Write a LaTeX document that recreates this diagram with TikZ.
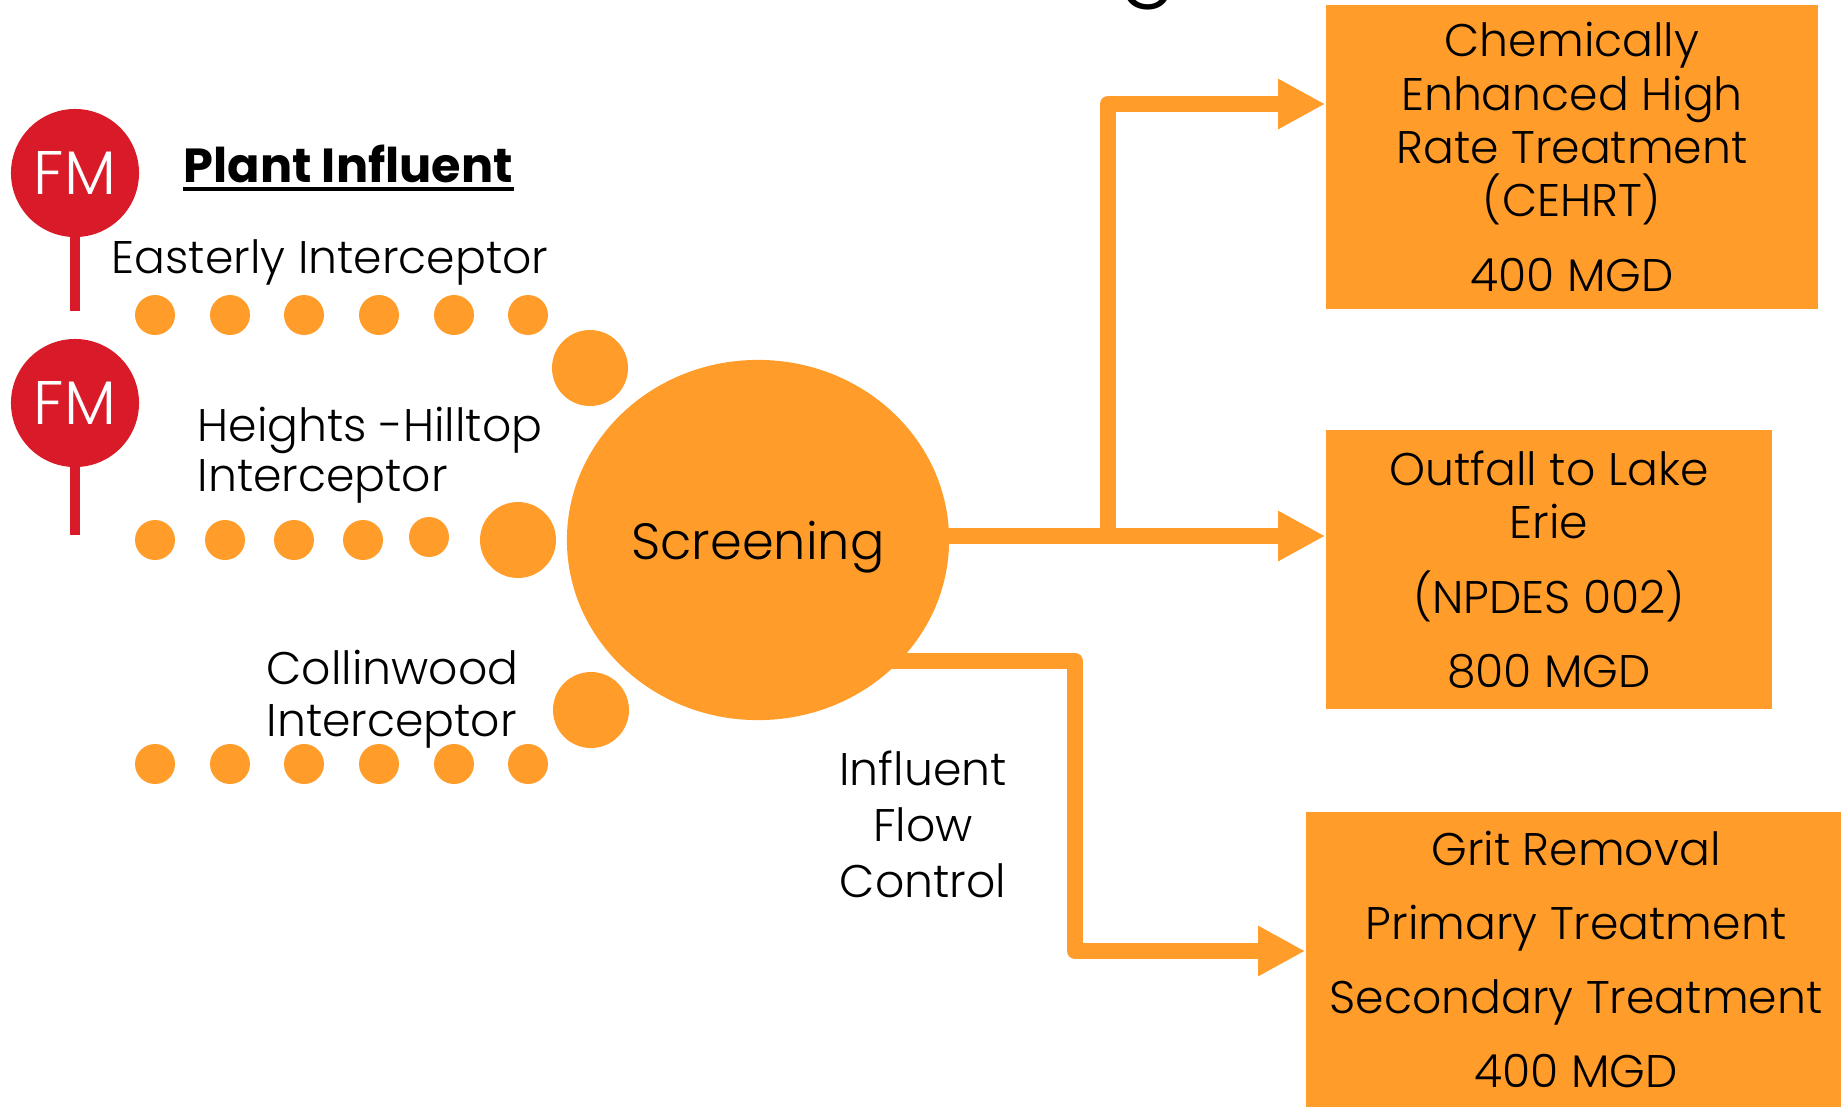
\documentclass[tikz,border=0pt]{standalone}
\usepackage{fontspec}
\setmainfont{Poppins}[UprightFont=* Light,BoldFont=* Bold]
\usetikzlibrary{arrows.meta,shapes.geometric,calc}
\definecolor{flow}{RGB}{255,156,42}
\definecolor{meterred}{RGB}{217,26,41}

\begin{document}
\begin{tikzpicture}[x=0.01cm,y=-0.01cm,
        every node/.style={inner sep=0pt,font=\fontsize{13}{15.2}\selectfont},
        pipe/.style={draw=flow,line width=0.16cm,line join=round,
          -{Triangle[length=0.47cm,width=0.47cm]}},
        stage/.style={rectangle,fill=flow,align=center},
        meter/.style={circle,fill=meterred,text=white,minimum size=1.28cm,
          font=\fontsize{17.5}{20}\selectfont},
        stem/.style={draw=meterred,line width=0.1cm}]

  \useasboundingbox (0,0) rectangle (1841,1108);

  \node[anchor=base,font=\fontsize{25}{28}\selectfont] (title) at (1148,-14) {g};

  \node[meter] (fm_1) at (75,173) {FM};
  \node[meter] (fm_2) at (75,403) {FM};
  \coordinate (stem_1) at (75,311);
  \coordinate (stem_2) at (75,535);
  \draw[stem] ([yshift=3pt]fm_1.south) -- (stem_1);
  \draw[stem] ([yshift=3pt]fm_2.south) -- (stem_2);

  \node[anchor=base west,font=\bfseries\fontsize{13.6}{16}\selectfont] (influent) at (183,182) {Plant Influent};
  \draw[line width=0.043cm] ([yshift=-0.07cm]influent.base west) -- ([yshift=-0.07cm]influent.base east);

  \node[anchor=base west] (easterly) at (111,273) {Easterly Interceptor};
  \node[anchor=west,align=left,font=\fontsize{13}{14.2}\selectfont] (heights) at (197,455) {Heights -Hilltop\\Interceptor};
  \node[anchor=west,align=left,font=\fontsize{13}{14.7}\selectfont] (collinwood) at (266,699) {Collinwood\\Interceptor};

  \foreach \x in {155,230,304,379,454,528} {
    \fill[flow] (\x,315) circle (20);
    \fill[flow] (\x,764) circle (20);
  }
  \foreach \x/\y in {155/540,225/540,294/540,363/540,429/537}
    \fill[flow] (\x,\y) circle (20);
  \foreach \x/\y in {590/368,518/540,591/710}
    \fill[flow] (\x,\y) circle (38);

  \node[ellipse,fill=flow,minimum width=3.82cm,minimum height=3.6cm,text depth=0pt,
        font=\fontsize{14.5}{16}\selectfont] (scr) at (758,540) {Screening};

  \node[stage,minimum width=4.92cm,minimum height=3.03cm] (cehrt) at (1572,157)
    {Chemically\\Enhanced High\\Rate Treatment\\(CEHRT)\\[6pt]400 MGD};
  \node[stage,minimum width=4.46cm,minimum height=2.79cm] (outfall) at (1549,569.5)
    {Outfall to Lake\\Erie\\[6pt](NPDES 002)\\[6pt]800 MGD};
  \node[stage,minimum width=5.4cm,minimum height=2.95cm] (grit) at (1576,959.5)
    {Grit Removal\\[5.8pt]Primary Treatment\\[5.8pt]Secondary Treatment\\[5.8pt]400 MGD};

  \node[align=center,font=\fontsize{13}{15.9}\selectfont] (ifc) at (923,824) {Influent\\Flow\\Control};

  \coordinate (split) at (1108,536);
  \draw[pipe] ($(scr.east |- split)+(-20,0)$) -- (outfall.west |- split);
  \draw[pipe] (split) |- (cehrt.west |- 0,104);
  \draw[pipe] ($(scr.center)+(85,121)$) -| (1075,951) -- (grit.west |- 0,951);

\end{tikzpicture}
\end{document}
